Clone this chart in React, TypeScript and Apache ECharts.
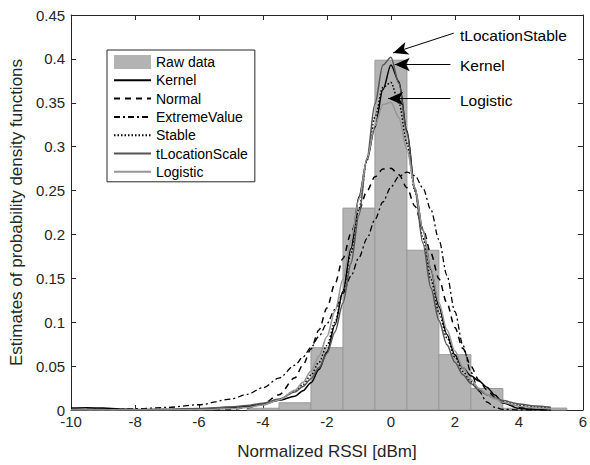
import React, { useEffect, useRef } from "react";
import * as echarts from "echarts";

const FONT = '"Liberation Sans", Arial, Helvetica, sans-serif';

// Histogram (bin centres, bin width 1)
const BIN_CENTERS = [-9, -4, -3, -2, -1, 0, 1, 2, 3, 4, 5];
const BIN_HEIGHTS = [0.0015, 0.002, 0.0082, 0.071, 0.23, 0.3985, 0.182, 0.063, 0.0245, 0.002, 0.0022];
const BIN_WIDTH = 1;

// Fitted curves, sampled along X
const X = [-10, -9.5, -9, -8.5, -8, -7, -6, -5, -4.5, -4, -3.5, -3, -2.75, -2.5, -2.25, -2, -1.75, -1.5, -1.25, -1, -0.75, -0.5, -0.25, 0, 0.25, 0.5, 0.75, 1, 1.25, 1.5, 1.75, 2, 2.25, 2.5, 2.75, 3, 3.25, 3.5, 4, 4.5, 5];
const KERNEL = [0.0022, 0.0025, 0.0022, 0.0012, 0.0004, 0.0003, 0.0009, 0.003, 0.0042, 0.0066, 0.011, 0.0158, 0.022, 0.031, 0.046, 0.066, 0.097, 0.135, 0.184, 0.243, 0.285, 0.322, 0.365, 0.393, 0.374, 0.318, 0.253, 0.205, 0.16, 0.118, 0.086, 0.063, 0.048, 0.039, 0.033, 0.026, 0.017, 0.008, 0.002, 0.0005, 0.0001];
const NORMAL = [0, 0, 0, 0, 0, 0, 0.00004, 0.0005, 0.0027, 0.0072, 0.0173, 0.0368, 0.0513, 0.0695, 0.0912, 0.1163, 0.1438, 0.1726, 0.2011, 0.2273, 0.2495, 0.2656, 0.2745, 0.2753, 0.268, 0.2532, 0.2322, 0.2065, 0.1784, 0.1495, 0.1217, 0.094, 0.07, 0.05, 0.034, 0.023, 0.0145, 0.0088, 0.003, 0.0008, 0.0002];
const EXTREME = [0.0003, 0.00046, 0.00066, 0.00095, 0.0014, 0.0029, 0.006, 0.0124, 0.0178, 0.0254, 0.0363, 0.0511, 0.0604, 0.0712, 0.084, 0.0985, 0.1147, 0.133, 0.1527, 0.1736, 0.1953, 0.217, 0.237, 0.254, 0.266, 0.271, 0.267, 0.253, 0.228, 0.194, 0.1535, 0.112, 0.0737, 0.043, 0.0216, 0.0091, 0.0031, 0.0008, 0, 0, 0];
const STABLE = [0.0001, 0.00015, 0.0002, 0.00023, 0.0003, 0.0005, 0.0011, 0.0024, 0.0039, 0.0067, 0.0118, 0.0214, 0.029, 0.0398, 0.0543, 0.0736, 0.1001, 0.1344, 0.1786, 0.229, 0.2842, 0.3338, 0.3675, 0.373, 0.3497, 0.304, 0.2495, 0.1959, 0.1488, 0.1113, 0.0822, 0.0603, 0.044, 0.0323, 0.0237, 0.0175, 0.0131, 0.0098, 0.0056, 0.0034, 0.0021];
const TLOCATION = [0.00025, 0.0003, 0.00037, 0.00045, 0.00055, 0.00098, 0.0018, 0.0035, 0.0051, 0.0078, 0.0124, 0.0204, 0.0268, 0.0357, 0.048, 0.0645, 0.089, 0.122, 0.167, 0.222, 0.287, 0.349, 0.393, 0.402, 0.372, 0.316, 0.25, 0.19, 0.139, 0.102, 0.0744, 0.0545, 0.0403, 0.0303, 0.0229, 0.0176, 0.0138, 0.0108, 0.0069, 0.0046, 0.0032];
const LOGISTIC = [0, 0, 0.00001, 0.00001, 0.00002, 0.00008, 0.00034, 0.0014, 0.0028, 0.0057, 0.0114, 0.0226, 0.0316, 0.0444, 0.0613, 0.0838, 0.1128, 0.149, 0.193, 0.24, 0.286, 0.324, 0.348, 0.3505, 0.333, 0.297, 0.253, 0.205, 0.161, 0.1224, 0.0913, 0.0671, 0.0484, 0.0348, 0.0248, 0.0177, 0.0127, 0.0088, 0.0044, 0.0022, 0.0011];

// Tick settings
const X_MIN = -10, X_MAX = 6, X_STEP = 2;
const Y_MIN = 0, Y_MAX = 0.45, Y_STEP = 0.05;

// Arrow annotations (data coordinates: from text to curve peak)
const ANNOT_LABELS = ["tLocationStable", "Kernel", "Logistic"];
const ANNOT_FROM = [[1.964, 0.4293], [1.86, 0.3936], [1.86, 0.3549]];
const ANNOT_TO = [[0.068, 0.4068], [0.12, 0.3936], [-0.086, 0.3549]];

const LINE_NAMES = ["Kernel", "Normal", "ExtremeValue", "Stable", "tLocationScale", "Logistic"];

const pairs = (ys: number[]) => X.map((x, i) => [x, ys[i]]);

export default function App() {
  const ref = useRef<HTMLDivElement>(null);
  useEffect(() => {
    const chart = echarts.init(ref.current!, null, { renderer: "svg" });
    const axisColor = "#262626";
    const baseX = {
      type: "value",
      min: X_MIN,
      max: X_MAX,
      interval: X_STEP,
      axisLine: { show: true, onZero: false, lineStyle: { color: axisColor, width: 1 } },
      axisTick: { show: true, inside: true, length: 5, lineStyle: { color: axisColor } },
      splitLine: { show: false },
    };
    const baseY = {
      type: "value",
      min: Y_MIN,
      max: Y_MAX,
      interval: Y_STEP,
      axisLine: { show: true, onZero: false, lineStyle: { color: axisColor, width: 1 } },
      axisTick: { show: true, inside: true, length: 5, lineStyle: { color: axisColor } },
      splitLine: { show: false },
    };
    const lineSeries = (name: string, ys: number[], color: string, width: number, type: any, z: number) => ({
      name,
      type: "line",
      data: pairs(ys),
      symbol: "none",
      showSymbol: false,
      smooth: 0.3,
      smoothMonotone: "x",
      lineStyle: { color, width, type },
      itemStyle: { color },
      z,
    });
    const kernel: any = lineSeries("Kernel", KERNEL, "#000000", 1.5, "solid", 3);
    kernel.markLine = {
      silent: true,
      animation: false,
      symbol: ["none", "arrow"],
      symbolSize: [10, 15],
      lineStyle: { color: "#000", width: 1, type: "solid" },
      label: { show: false },
      data: ANNOT_FROM.map((f, i) => [{ coord: f }, { coord: ANNOT_TO[i] }]),
    };
    chart.setOption({
      animation: false,
      backgroundColor: "#ffffff",
      textStyle: { fontFamily: FONT },
      grid: { left: 67.5, right: 2, top: 15, bottom: 51, containLabel: false },
      xAxis: [
        {
          ...baseX,
          position: "bottom",
          axisLabel: { color: axisColor, fontSize: 15, fontFamily: FONT, margin: 4 },
          name: "Normalized RSSI [dBm]",
          nameLocation: "middle",
          nameGap: 33,
          nameTextStyle: { fontSize: 17, color: axisColor, fontFamily: FONT },
        },
        { ...baseX, position: "top", axisLabel: { show: false } },
      ],
      yAxis: [
        {
          ...baseY,
          position: "left",
          axisLabel: { color: axisColor, fontSize: 15, fontFamily: FONT, margin: 6 },
          name: "Estimates of probability density functions",
          nameLocation: "middle",
          nameGap: 46,
          nameTextStyle: { fontSize: 17, color: axisColor, fontFamily: FONT },
        },
        { ...baseY, position: "right", axisLabel: { show: false } },
      ],
      legend: {
        orient: "vertical",
        left: 107,
        top: 50,
        padding: [5, 7, 3, 6],
        itemGap: 4.3,
        itemWidth: 37,
        itemHeight: 14,
        itemTextGap: 3,
        backgroundColor: "#ffffff",
        borderColor: axisColor,
        borderWidth: 1,
        borderRadius: 0,
        textStyle: { fontSize: 14, color: "#000", fontFamily: FONT },
        data: [
          { name: "Raw data", icon: "rect" },
          ...LINE_NAMES.map((n) => ({
            name: n,
            itemStyle: { color: "rgba(0,0,0,0)", borderWidth: 0, opacity: 0 },
          })),
        ],
      },
      graphic: ANNOT_LABELS.map((t, i) => ({
        type: "text",
        x: 460,
        y: [35, 65, 100][i],
        style: { text: t, fontSize: 15.5, fontFamily: FONT, fill: "#000", verticalAlign: "middle", align: "left" },
        z: 100,
      })),
      series: [
        {
          name: "Raw data",
          type: "custom",
          xAxisIndex: 0,
          yAxisIndex: 0,
          z: 1,
          itemStyle: { color: "#b3b3b3" },
          encode: { x: 0, y: 1 },
          data: BIN_CENTERS.map((c, i) => [c, BIN_HEIGHTS[i]]),
          renderItem: (params: any, api: any) => {
            const c = api.value(0);
            const h = api.value(1);
            const p0 = api.coord([c - BIN_WIDTH / 2, h]);
            const p1 = api.coord([c + BIN_WIDTH / 2, 0]);
            const cs = params.coordSys;
            const x0 = Math.max(p0[0], cs.x);
            const x1 = Math.min(p1[0], cs.x + cs.width);
            return {
              type: "rect",
              shape: { x: x0, y: p0[1], width: x1 - x0, height: p1[1] - p0[1] },
              style: { fill: "#b3b3b3", stroke: "#999999", lineWidth: 1 },
            };
          },
        },
        kernel,
        lineSeries("Normal", NORMAL, "#000000", 1.5, [6, 5], 3),
        lineSeries("ExtremeValue", EXTREME, "#000000", 1.3, [6, 3, 2, 3], 3),
        lineSeries("Stable", STABLE, "#000000", 1.5, [1.5, 2], 3),
        lineSeries("tLocationScale", TLOCATION, "#555555", 1.5, "solid", 3),
        lineSeries("Logistic", LOGISTIC, "#969696", 1.5, "solid", 3),
      ],
    });
    return () => chart.dispose();
  }, []);
  return (
    <div
      ref={ref}
      style={{ position: "fixed", left: 0, top: 0, width: 590, height: 465, background: "#fff" }}
    />
  );
}
